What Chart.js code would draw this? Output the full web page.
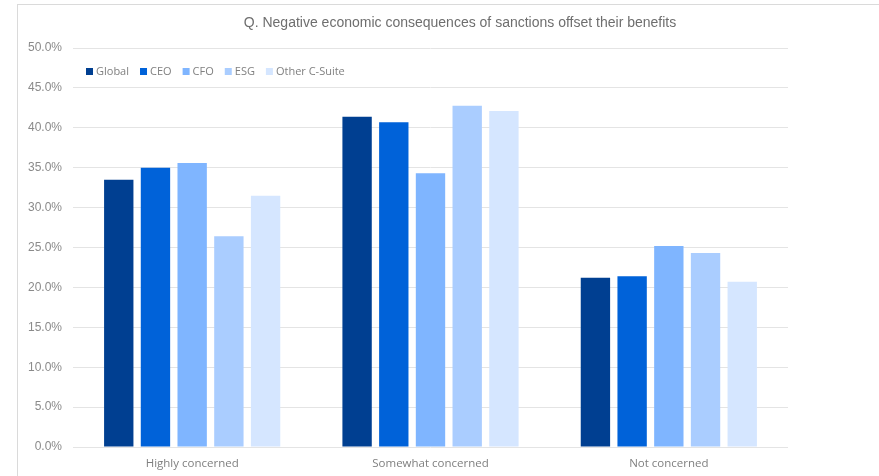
<!DOCTYPE html>
<html>
<head>
<meta charset="utf-8">
<script src="https://cdn.jsdelivr.net/npm/chart.js@4.4.1/dist/chart.umd.min.js"></script>
<style>
    html, body { margin: 0; padding: 0; background: #fff; overflow: hidden; }
    #marco { position: absolute; left: 17px; top: 4px; width: 900px; height: 500px;
             border-left: 1px solid #dadada; border-top: 1px solid #dadada; }
    #grafico { position: absolute; left: 0; top: 0; }
</style>
</head>
<body>
<div id="marco"></div>
<canvas id="grafico" width="879" height="476"></canvas>
<script>
// datos de la encuesta (%)
var titulo = "Q. Negative economic consequences of sanctions offset their benefits";
var categorias = ["Highly concerned", "Somewhat concerned", "Not concerned"];
var grupos = ["Global", "CEO", "CFO", "ESG", "Other C-Suite"];
var colores = ["#003f91", "#0062d9", "#7fb5ff", "#aacdff", "#d5e6ff"];
var global = [33.5, 41.4, 21.2];
var ceo = [35.0, 40.7, 21.4];
var cfo = [35.6, 34.3, 25.2];
var esg = [26.4, 42.75, 24.3];
var otros = [31.5, 42.1, 20.7];
var ticksY = [0, 5, 10, 15, 20, 25, 30, 35, 40, 45, 50];

var series = [global, ceo, cfo, esg, otros];

// titulo dibujado a mano (va corrido a la derecha)
var tituloPlugin = {
    id: 'tituloPlugin',
    afterDraw: function (chart) {
        var ctx = chart.ctx;
        ctx.save();
        ctx.font = '14px "Liberation Sans", Arial, sans-serif';
        ctx.fillStyle = '#6e6e6e';
        ctx.textAlign = 'center';
        ctx.textBaseline = 'middle';
        ctx.fillText(titulo, 460, 23);
        ctx.restore();
    }
};

// leyenda dentro del area del grafico, arriba a la izquierda
var leyendaPlugin = {
    id: 'leyendaPlugin',
    afterDraw: function (chart) {
        var ctx = chart.ctx;
        var area = chart.chartArea;
        ctx.save();
        ctx.font = '11px "Open Sans", sans-serif';
        ctx.textBaseline = 'middle';
        var x = area.left + 13;
        var y = area.top + 23.5;
        chart.data.datasets.forEach(function (ds) {
            ctx.fillStyle = ds.backgroundColor;
            ctx.fillRect(x, y - 3.5, 7, 7);
            ctx.fillStyle = '#808080';
            ctx.fillText(ds.label, x + 10, y);
            x += 10 + ctx.measureText(ds.label).width + 11;
        });
        ctx.restore();
    }
};

var datasets = grupos.map(function (g, i) {
    return {
        label: g,
        data: series[i],
        backgroundColor: colores[i],
        categoryPercentage: 0.77,
        barPercentage: 0.8
    };
});

var myChart = new Chart(document.getElementById('grafico'), {
    type: 'bar',
    data: { labels: categorias, datasets: datasets },
    options: {
        responsive: false,
        animation: false,
        layout: { padding: { top: 48, right: 91, left: 0, bottom: 0 } },
        plugins: {
            legend: { display: false },
            title: { display: false },
            tooltip: { enabled: false }
        },
        scales: {
            x: {
                grid: { display: false, drawTicks: false },
                border: { display: false },
                ticks: {
                    padding: 10,
                    color: '#7f7f7f',
                    font: { family: '"Open Sans", sans-serif', size: 11.5 }
                },
                afterFit: function (scale) { scale.height = 29; }
            },
            y: {
                min: 0,
                max: 50,
                afterBuildTicks: function (scale) {
                    scale.ticks = ticksY.map(function (v) { return { value: v }; });
                },
                grid: { color: '#e4e4e4', lineWidth: 1, drawTicks: false },
                border: { display: false },
                ticks: {
                    padding: 11,
                    color: '#8a8a8a',
                    font: { family: '"Liberation Sans", Arial, sans-serif', size: 12 },
                    callback: function (v) { return v.toFixed(1) + '%'; }
                },
                afterFit: function (scale) { scale.width = 73; }
            }
        }
    },
    plugins: [tituloPlugin, leyendaPlugin]
});
</script>
</body>
</html>
